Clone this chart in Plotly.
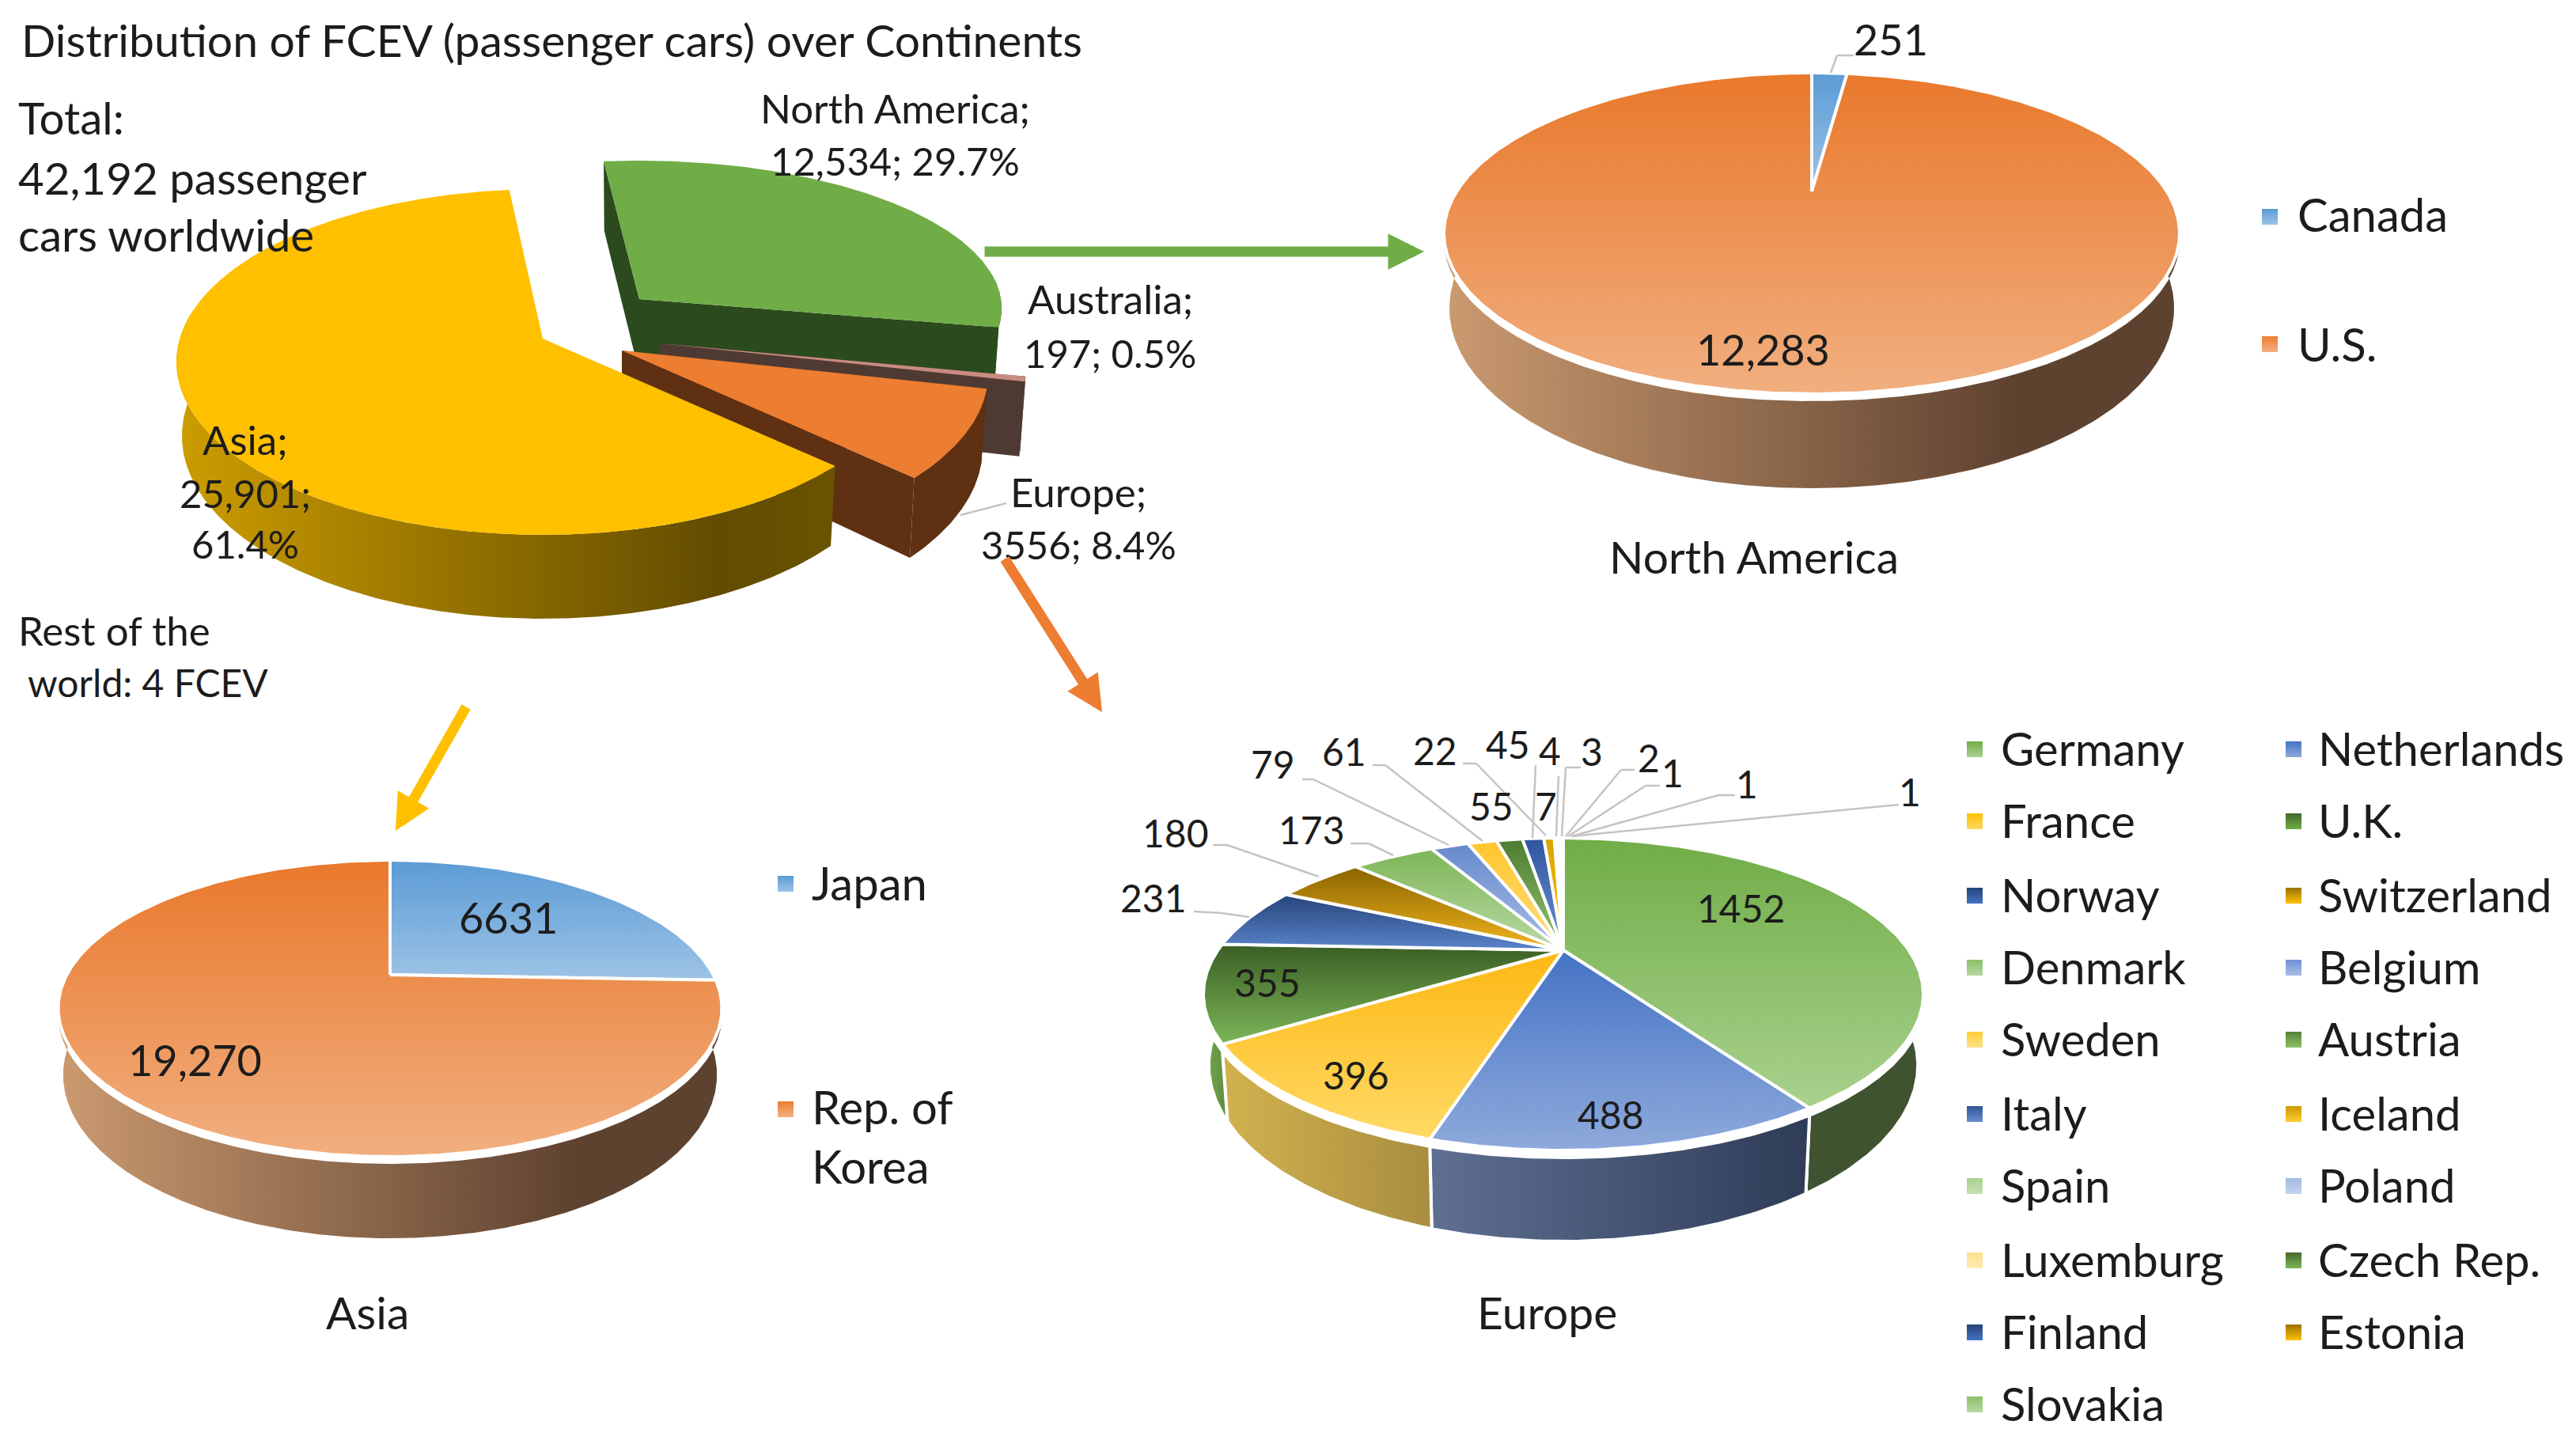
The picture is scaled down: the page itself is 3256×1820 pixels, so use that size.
import math
import numpy as np
import plotly.graph_objects as go

# ---------- data ----------
continents = ["North America", "Australia", "Europe", "Asia"]
continent_values = [12534, 197, 3556, 25901]

na_countries = ["Canada", "U.S."]
na_values = [251, 12283]

asia_countries = ["Japan", "Rep. of Korea"]
asia_values = [6631, 19270]

europe_countries = ["Germany", "Netherlands", "France", "U.K.", "Norway", "Switzerland", "Denmark",
                    "Belgium", "Sweden", "Austria", "Italy", "Iceland", "Spain", "Poland",
                    "Luxemburg", "Czech Rep.", "Finland", "Estonia", "Slovakia"]
europe_values = [1452, 488, 396, 355, 231, 180, 173, 79, 61, 55, 45, 22, 7, 4, 3, 2, 1, 1, 1]

# ---------- style ----------
FONT = "Lato"
INK = "#1c1c1c"

def geom(cx, yv, top, bottom, half, depth):
    r = (bottom - yv) / (yv - top)
    k = (1 - r) / (1 + r)
    a = (bottom - yv) * (1 + k)
    b = half * math.sqrt(1 - k * k)
    return dict(cx=cx, yv=yv, k=k, a=a, b=b, depth=depth)

G_MAIN = geom(686, 428, 239, 676, 463, 106)
G_GREEN = geom(808, 378, 203, 577, 458, 100)
G_NA = geom(2290, 242, 92, 498, 465, 119)
G_ASIA = geom(493, 1232, 1087, 1462, 419.5, 103)
G_EU = geom(1976, 1201, 1059, 1454, 455, 115)

def rim(g, th, dx=0, dy=0):
    t = np.radians(th)
    X, Y = np.sin(t), -np.cos(t)
    d = 1 + g["k"] * Y
    return g["cx"] + g["b"] * X / d + dx, g["yv"] + g["a"] * Y / d + dy, Y

def lower(g, x, y, Y, dx=0):
    ds = g["depth"] * (1 + g["k"]) / (1 + g["k"] * Y)
    return g["cx"] + dx + (x - g["cx"] - dx) * 0.985, y + ds

def poly(fig, x, y, name, scale, kind, lw=0, lc="white"):
    x = np.asarray(x, float)
    y = np.asarray(y, float)
    if kind == "vertical":
        st, sp = float(y.min()), float(y.max())
    else:
        st, sp = float(x.min()), float(x.max())
    fig.add_trace(go.Scatter(
        x=np.append(x, x[0]), y=np.append(y, y[0]), mode="lines", fill="toself",
        fillgradient=dict(type=kind, colorscale=scale, start=st, stop=sp),
        line=dict(color=lc, width=lw), name=name, hoverinfo="name", showlegend=False))

def solid(c):
    return [[0, c], [1, c]]

def draw_cut(fig, g, t0, t1, name, cut, dx, dy):
    vx, vy = g["cx"] + dx, g["yv"] + dy
    vd = g["depth"] * (1 + g["k"])
    for t in (t0, t1):
        rx, ry, Y = rim(g, np.array([t]), dx, dy)
        lx, ly = lower(g, rx, ry, Y, dx)
        poly(fig, [vx, rx[0], lx[0], vx], [vy, ry[0], ly[0], vy + vd], name + " cut", solid(cut), "horizontal")

def draw_wall(fig, g, t0, t1, name, wall, dx=0, dy=0, lw=0, gap=0):
    a0, a1 = max(t0, 80), min(t1, 280)
    if a1 <= a0:
        return
    wt = np.linspace(a0, a1, max(3, int((a1 - a0) * 2)))
    rx, ry, Y = rim(g, wt, dx, dy)
    lx, ly = lower(g, rx, ry, Y, dx)
    poly(fig, np.r_[rx, lx[::-1]], np.r_[ry + gap, ly[::-1]], name + " side", wall, "horizontal", lw=lw)

def draw_top(fig, g, t0, t1, name, top, dx=0, dy=0, lw=0):
    ths = np.linspace(t0, t1, max(3, int(abs(t1 - t0) * 2)))
    rx, ry, _ = rim(g, ths, dx, dy)
    poly(fig, np.r_[g["cx"] + dx, rx], np.r_[g["yv"] + dy, ry], name, top, "vertical", lw=lw)

def angles(vals, start=0.0):
    tot = sum(vals)
    out, c = [], start
    for v in vals:
        s = v / tot * 360
        out.append((c, c + s))
        c += s
    return out

fig = go.Figure()

# ---------- main exploded pie ----------
main_total = sum(continent_values)
main_angles = angles(continent_values, -6.0)
main_style = [
    (G_GREEN, "#70AD47", solid("#2B4A1E"), "#2B4A1E", 0, 0),
    (G_MAIN, "#C98B80", solid("#4F3A33"), "#4F3A33", 148, 6),
    (G_MAIN, "#ED7D31", solid("#5F3011"), "#5F3011", 100, 15),
    (G_MAIN, "#FFC000", [[0, "#CC9C00"], [0.82, "#624C00"], [1, "#6A5300"]], None, 0, 0),
]
for nm, (t0, t1), (g, tp, wl, ct, ox, oy) in zip(continents, main_angles, main_style):
    if ct:
        draw_cut(fig, g, t0, t1, nm, ct, ox, oy)
    draw_wall(fig, g, t0, t1, nm, wl, ox, oy)
    draw_top(fig, g, t0, t1, nm, solid(tp), ox, oy)

# ---------- North America / Asia ----------
BLUE_TOP = [[0, "#5B9BD5"], [1, "#9DC3E6"]]
OR_TOP = [[0, "#E9782B"], [1, "#F1AF80"]]
BR_WALL = [[0, "#CB9A70"], [0.78, "#5E4230"], [1, "#5E4230"]]
BLUE_WALL = [[0, "#5B7FA5"], [1, "#33506E"]]

for g, names, vals in ((G_NA, na_countries, na_values), (G_ASIA, asia_countries, asia_values)):
    ang = angles(vals)
    for nm, (t0, t1), wl in zip(names, ang, (BLUE_WALL, BR_WALL)):
        draw_wall(fig, g, t0, t1, nm, wl, gap=9)
    for nm, (t0, t1), tp in zip(names, ang, (BLUE_TOP, OR_TOP)):
        draw_top(fig, g, t0, t1, nm, tp, lw=4)

# ---------- Europe ----------
eu_top = [("#70AD47", "#A9D18E"), ("#4472C4", "#8FAADC"), ("#FDB813", "#FFD966"), ("#3A5E24", "#7DB659"),
          ("#264478", "#5B84CC"), ("#8A6400", "#F2B51C"), ("#7EB658", "#B9D9A3"), ("#6689CC", "#A9BEE6"),
          ("#FFC62A", "#FFDD80"), ("#4E7C30", "#93C572"), ("#2F559E", "#6E93D5"), ("#D9A300", "#FFC000"),
          ("#A9D18E", "#C5E0B4"), ("#8FAADC", "#B4C7E7"), ("#FFD966", "#FFE699"), ("#43682B", "#70AD47"),
          ("#2F5597", "#4472C4"), ("#BF9000", "#FFC000"), ("#8CC168", "#A9D18E")]
eu_wall = [("#3F5330", "#3F5330"), ("#5F6F92", "#2F3C57"), ("#D2B24F", "#A98D3F"), ("#76A950", "#5E8C40")]
eu_angles = angles(europe_values)
for nm, (t0, t1), wc in zip(europe_countries, eu_angles, eu_wall):
    draw_wall(fig, G_EU, t0, t1, nm, [[0, wc[0]], [1, wc[1]]], lw=4, gap=9)
for i, (nm, (t0, t1)) in enumerate(zip(europe_countries, eu_angles)):
    draw_top(fig, G_EU, t0, t1, nm, [[0, eu_top[i][0]], [1, eu_top[i][1]]], lw=4)

# ---------- text ----------
notes = []
def T(x, y, s, anchor="center", size=57):
    notes.append(dict(x=x, y=y - 2, text=s, xref="x", yref="y", showarrow=False, xanchor=anchor, yanchor="middle",
                      font=dict(family=FONT, size=size, color=INK)))

T(25, 52, "Distribution of FCEV (passenger cars) over Continents", "left")
T(21, 150, "Total:", "left", 56.5)
T(21, 226, "42,192 passenger", "left", 56.5)
T(21, 298, "cars worldwide", "left", 56.5)
T(21, 798, "Rest of the", "left", 51)
T(33, 864, "world: 4 FCEV", "left", 48)

main_labels = [
    (1131, 138, f"{continents[0]};", 51), (1131, 205, f"{continent_values[0]:,}; {continent_values[0]/main_total*100:.1f}%", 49),
    (1403, 379, f"{continents[1]};", 51), (1403, 448, f"{continent_values[1]}; {continent_values[1]/main_total*100:.1f}%", 49),
    (1363, 623, f"{continents[2]};", 51), (1363, 690, f"{continent_values[2]}; {continent_values[2]/main_total*100:.1f}%", 49),
    (310, 557, f"{continents[3]};", 51), (310, 625, f"{continent_values[3]:,};", 49), (310, 689, f"{continent_values[3]/main_total*100:.1f}%", 49),
]
for x, y, s, z in main_labels:
    T(x, y, s, size=z)

T(2390, 51, f"{na_values[0]}", size=54)
T(2228, 443, f"{na_values[1]:,}", size=54)
T(2217, 705, "North America", size=57)
T(642, 1161, f"{asia_values[0]}", size=54)
T(246, 1341, f"{asia_values[1]:,}", size=54)
T(464, 1660, "Asia", size=57)
T(1955, 1660, "Europe", size=57)

eu_label_pos = [(2200, 1149), (2036, 1410), (1714, 1360), (1602, 1243), (1458, 1136), (1486, 1054), (1658, 1050),
                (1609, 967), (1699, 951), (1885, 1020), (1906, 942), (1814, 950), (1954, 1020), (1959, 950),
                (2012, 951), (2084, 959), (2114, 978), (2208, 992), (2414, 1002)]
for (x, y), v in zip(eu_label_pos, europe_values):
    T(x, y, str(v), size=48)

# ---------- legends ----------
legend_rows = [947, 1038, 1132, 1223, 1314, 1408, 1499, 1593, 1684, 1775]
legend_cols = [(2496, 2527), (2899, 2928)]
eu_marker_top = ["#70AD47", "#4472C4", "#FFC000", "#43682B", "#264478", "#997300", "#8CC168", "#6F91D5", "#FFCD33", "#548235",
                 "#2F5597", "#CC9A00", "#A9D18E", "#A3B9E4", "#FFE08A", "#43682B", "#264478", "#997300", "#8CC168"]
eu_marker_low = ["#A9D18E", "#8FAADC", "#FFD966", "#70AD47", "#4472C4", "#FFC000", "#B5D8A0", "#A9BEE6", "#FFE08A", "#8CC168",
                 "#698ED0", "#FFCD33", "#C5E0B4", "#C5D3EE", "#FFEBB3", "#7DB659", "#4472C4", "#FFC000", "#B5D8A0"]
mx, my = [2869, 2869, 993, 993], [274, 435, 1117, 1402]
m_top = ["#5B9BD5", "#ED7D31", "#5B9BD5", "#ED7D31"]
m_low = ["#9DC3E6", "#F4B183", "#9DC3E6", "#F4B183"]
for nm, x, y in zip(["Canada", "U.S.", "Japan", "Rep. of"], [2902, 2902, 1024, 1024], [272, 436, 1117, 1400]):
    T(x, y, nm, "left", 58)
T(1024, 1475, "Korea", "left", 58)
for i, nm in enumerate(europe_countries):
    col, row = i % 2, i // 2
    mx.append(legend_cols[col][0])
    my.append(legend_rows[row])
    m_top.append(eu_marker_top[i])
    m_low.append(eu_marker_low[i])
    T(legend_cols[col][1], legend_rows[row], nm, "left", 58)
fig.add_trace(go.Scatter(x=mx, y=my, mode="markers", hoverinfo="skip", showlegend=False,
                         marker=dict(symbol="square", size=20, color=m_top, line=dict(width=0),
                                     gradient=dict(type="vertical", color=m_low))))

# ---------- arrows ----------
for (x0, y0, x1, y1, c) in [(1243, 318, 1800, 318, "#70AD47"), (1269, 705, 1393, 900, "#ED7D31"), (590, 892, 500, 1050, "#FFC000")]:
    notes.append(dict(x=x1, y=y1, ax=x0, ay=y0, xref="x", yref="y", axref="x", ayref="y", text="", showarrow=True,
                      arrowhead=2, arrowsize=0.7, arrowwidth=13, arrowcolor=c))

# ---------- leader lines ----------
leaders = [
    [(1272, 636), (1214, 651)],
    [(2343, 70), (2322, 70), (2314, 92)],
    [(1509, 1152), (1544, 1154), (1579, 1159)],
    [(1533, 1068), (1551, 1068), (1667, 1108)],
    [(1707, 1066), (1730, 1066), (1761, 1081)],
    [(1646, 985), (1660, 985), (1831, 1068)],
    [(1735, 967), (1751, 967), (1874, 1063)],
    [(1849, 965), (1866, 965), (1954, 1056)],
    [(1941, 967), (1937, 1059)],
    [(1970, 981), (1967, 1057)],
    [(1998, 970), (1979, 970), (1974, 1057)],
    [(2066, 973), (2049, 973), (1979, 1057)],
    [(2098, 993), (2080, 993), (1982, 1057)],
    [(2193, 1005), (2172, 1005), (1986, 1057)],
    [(2400, 1017), (1986, 1057)],
]
shapes = []
for pts in leaders:
    for (a, b) in zip(pts[:-1], pts[1:]):
        shapes.append(dict(type="line", x0=a[0], y0=a[1], x1=b[0], y1=b[1], xref="x", yref="y",
                           line=dict(color="#C4C4C4", width=2.5)))

fig.update_layout(
    width=3256, height=1820, margin=dict(l=0, r=0, t=0, b=0),
    paper_bgcolor="white", plot_bgcolor="white", showlegend=False,
    xaxis=dict(range=[0, 3256], visible=False, fixedrange=True),
    yaxis=dict(range=[1820, 0], visible=False, fixedrange=True),
    annotations=notes, shapes=shapes,
)
fig.write_html("out.html", post_script="document.body.style.margin='0';document.body.style.overflow='hidden';",
               config=dict(displayModeBar=False))
